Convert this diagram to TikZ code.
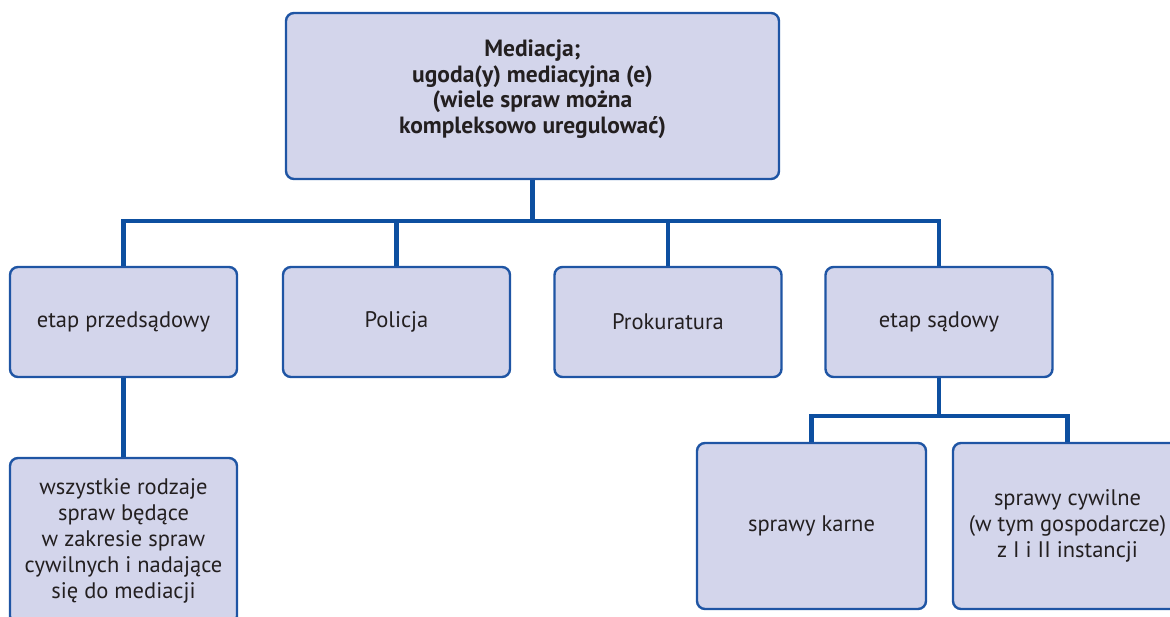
\documentclass[tikz,border=0pt]{standalone}
\usepackage{fontspec}
\setmainfont{PT Sans}
\usetikzlibrary{backgrounds}
\definecolor{boxfill}{HTML}{D3D5EB}
\definecolor{boxline}{HTML}{1F55A4}
\definecolor{connline}{HTML}{0D4FA0}
\definecolor{txt}{HTML}{231F20}
\begin{document}
\begin{tikzpicture}[x=1pt,y=-1pt,
  box/.style={draw=boxline, fill=boxfill, line width=2.4pt, rounded corners=8pt,
    minimum width=227pt, minimum height=110pt, align=center, text=txt,
    font=\fontsize{22.5}{25.8}\selectfont, inner sep=0pt},
  bigbox/.style={box, minimum width=229pt, minimum height=166pt},
  conn/.style={draw=connline, line width=4.8pt, line join=miter}]
\useasboundingbox (0,0) rectangle (1170,617);
\coordinate (bar) at (0,221);
\coordinate (bar2) at (0,416);
\node[box, minimum width=493pt, minimum height=166pt] (top) at (532.5,96) {};
\node[align=center, text=txt, inner sep=0pt, font=\bfseries\fontsize{23.5}{25.5}\selectfont] (toptext) at (532.5,89) {Mediacja;\\ugoda(y) mediacyjna (e)\\(wiele spraw można\\kompleksowo uregulować)};
\node[box] (b1) at (123.5,322) {etap przedsądowy};
\node[box] (b2) at (396.5,322) {Policja};
\node[box] (b3) at (668,322) {Prokuratura};
\node[box] (b4) at (939,322) {etap sądowy};
\node[box, minimum height=166pt] (c1) at (123.5,541) {wszystkie rodzaje\\spraw będące\\w zakresie spraw\\cywilnych i nadające\\się do mediacji};
\node[bigbox] (d1) at (811.5,526) {sprawy karne};
\node[bigbox] (d2) at (1067.5,526) {sprawy cywilne\\(w tym gospodarcze)\\z I i II instancji};
\begin{scope}[on background layer]
\draw[conn] (top.south) -- (top.south |- bar);
\draw[conn] (b1.north) -- (b1.north |- bar) -- (b4.north |- bar) -- (b4.north);
\draw[conn] (b2.north) -- (b2.north |- bar);
\draw[conn] (b3.north) -- (b3.north |- bar);
\draw[conn] (b1.south) -- (c1.north);
\draw[conn] (b4.south) -- (b4.south |- bar2);
\draw[conn] (d1.north) -- (d1.north |- bar2) -- (d2.north |- bar2) -- (d2.north);
\end{scope}
\end{tikzpicture}
\end{document}
